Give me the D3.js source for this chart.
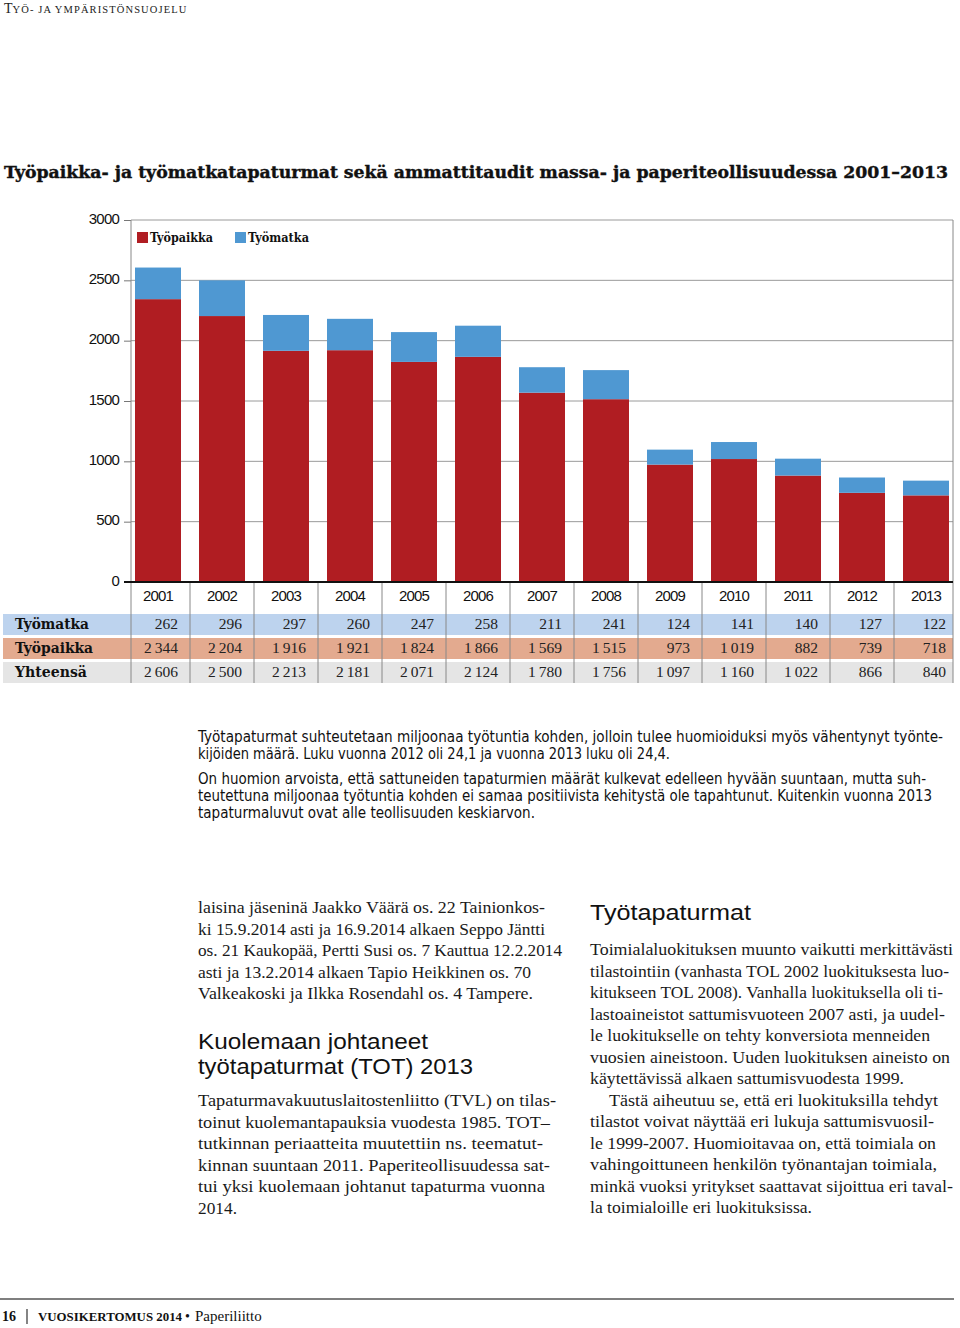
<!DOCTYPE html>
<html><head><meta charset="utf-8">
<script src="https://cdn.jsdelivr.net/npm/d3@7"></script>
<style>
body{margin:0;background:#fff;}
svg{display:block;}
</style></head>
<body>
<svg id="c" width="960" height="1328"></svg>
<script>
// ---------- data ----------
const years = ["2001","2002","2003","2004","2005","2006","2007","2008","2009","2010","2011","2012","2013"];
const tyomatka = [262,296,297,260,247,258,211,241,124,141,140,127,122];
const tyopaikka = [2344,2204,1916,1921,1824,1866,1569,1515,973,1019,882,739,718];
const yTicks = [0,500,1000,1500,2000,2500,3000];
const seriesNames = ["Työpaikka","Työmatka"];
const rowLabels = ["Työmatka","Työpaikka","Yhteensä"];

const COL_RED = "#b01d22", COL_BLUE = "#4f98d2";
const SANS_C = "'Liberation Sans Narrow','DejaVu Sans Condensed','Liberation Sans',sans-serif";
const SANS = "'Liberation Sans',Arial,sans-serif";
const SLAB = "'DejaVu Serif',serif";
const SERIF = "'Liberation Serif','DejaVu Serif',serif";
const HEAD = "'Liberation Sans',Arial,sans-serif";

const svg = d3.select("#c");
const fmt = d3.formatLocale({decimal:",", thousands:"\u2009", grouping:[3], currency:["","€"]}).format(",d");

// ---------- header ----------
const hdr = svg.append("text").attr("x",4).attr("y",13).attr("font-family",SERIF).attr("fill","#222");
hdr.append("tspan").attr("font-size",14).text("T");
hdr.append("tspan").attr("font-size",10.5).attr("letter-spacing",1.1).text("YÖ- JA YMPÄRISTÖNSUOJELU");

// ---------- title ----------
svg.append("text").attr("x",4).attr("y",178)
  .attr("font-family",SLAB).attr("font-weight","900").attr("font-size",17).attr("fill","#111")
  .attr("stroke","#111").attr("stroke-width",0.4)
  .attr("textLength",944).attr("lengthAdjust","spacingAndGlyphs")
  .text("Työpaikka- ja työmatkatapaturmat sekä ammattitaudit massa- ja paperiteollisuudessa 2001–2013");

// ---------- scales ----------
const x = d3.scaleBand().domain(years).range([126,958]).paddingInner(18/64).paddingOuter(9/64);
const y = d3.scaleLinear().domain([0,3000]).range([582,220]);
const plotL = 131, plotR = 953;
const bw = x.bandwidth(), gap = (x.step()-bw)/2;

// gridlines
svg.append("g").selectAll("line").data(yTicks.filter(d=>d>0)).join("line")
  .attr("x1",plotL).attr("x2",plotR).attr("y1",d=>y(d)).attr("y2",d=>y(d))
  .attr("stroke","#9a9a9a").attr("stroke-width",1);

// y axis
const yAxis = svg.append("g").attr("transform",`translate(${plotL},0)`)
  .call(d3.axisLeft(y).tickValues(yTicks).tickSizeInner(7).tickSizeOuter(0).tickPadding(5).tickFormat(d3.format("d")));
yAxis.select(".domain").remove();
yAxis.selectAll(".tick line").attr("stroke","#777");
yAxis.selectAll(".tick text").attr("font-family",SANS).attr("font-size",15)
  .attr("letter-spacing",-0.8).attr("fill","#111").attr("dy","0.2em");

// stacked bars
const rows = years.map((yr,i)=>({year:yr, "Työpaikka":tyopaikka[i], "Työmatka":tyomatka[i]}));
const stack = d3.stack().keys(seriesNames)(rows);
const color = d3.scaleOrdinal().domain(seriesNames).range([COL_RED, COL_BLUE]);
svg.append("g").selectAll("g").data(stack).join("g").attr("fill",d=>color(d.key))
  .selectAll("rect").data(d=>d).join("rect")
  .attr("x",d=>x(d.data.year)).attr("width",bw)
  .attr("y",d=>y(d[1])).attr("height",d=>y(d[0])-y(d[1]));

// frame lines
svg.append("line").attr("x1",plotL).attr("x2",plotL).attr("y1",220).attr("y2",683).attr("stroke","#888");
svg.append("line").attr("x1",plotR).attr("x2",plotR).attr("y1",220).attr("y2",683).attr("stroke","#888");
svg.append("line").attr("x1",124).attr("x2",plotR).attr("y1",y(0)).attr("y2",y(0)).attr("stroke","#111").attr("stroke-width",2);

// legend
const lg = svg.append("g");
const legendPos = [137, 235];
seriesNames.forEach((s,i)=>{
  lg.append("rect").attr("x",legendPos[i]).attr("y",232).attr("width",11).attr("height",11).attr("fill",color(s));
  lg.append("text").attr("x",legendPos[i]+13).attr("y",242).attr("font-family",SLAB).attr("font-weight","bold")
    .attr("font-size",12).attr("fill","#111").attr("textLength",i===0?63:61).attr("lengthAdjust","spacingAndGlyphs").text(s);
});

// ---------- table ----------
const rowTop = [614,638,662], rowH = 21;
const rowFill = ["#bdd3ee","#e3aa8f","#e5e5e5"];
const rowVals = [tyomatka, tyopaikka, tyomatka.map((v,i)=>v+tyopaikka[i])];
const tb = svg.insert("g",":first-child");
rowTop.forEach((t,r)=>{
  tb.append("rect").attr("x",3).attr("y",t).attr("width",plotR-3).attr("height",rowH).attr("fill",rowFill[r]);
});
const tt = svg.append("g");
// separators
tt.selectAll("line.sep").data(years.slice(0,-1)).join("line").attr("class","sep")
  .attr("x1",d=>x(d)+bw+gap).attr("x2",d=>x(d)+bw+gap).attr("y1",583).attr("y2",683)
  .attr("stroke","#888");
// year labels
tt.selectAll("text.yr").data(years).join("text").attr("class","yr")
  .attr("x",d=>x(d)+bw/2).attr("y",601).attr("text-anchor","middle")
  .attr("font-family",SANS).attr("font-size",15).attr("letter-spacing",-0.8).attr("fill","#111").text(d=>d);
rowLabels.forEach((lab,r)=>{
  tt.append("text").attr("x",15).attr("y",rowTop[r]+15).attr("font-family",SLAB).attr("font-weight","bold")
    .attr("font-size",14).attr("fill","#111").attr("textLength",[74,78,72][r]).attr("lengthAdjust","spacingAndGlyphs").text(lab);
  tt.selectAll(null).data(rowVals[r]).join("text")
    .attr("x",(d,i)=>x(years[i])+bw-3).attr("y",rowTop[r]+15).attr("text-anchor","end")
    .attr("font-family",SERIF).attr("font-size",15.5).attr("fill","#222").text(d=>fmt(d));
});

// ---------- notes under chart ----------
const notes = [
  {t:"Työtapaturmat suhteutetaan miljoonaa työtuntia kohden, jolloin tulee huomioiduksi myös vähentynyt työnte-", y:742, w:745},
  {t:"kijöiden määrä. Luku vuonna 2012 oli 24,1 ja vuonna 2013 luku oli 24,4.", y:759, w:472},
  {t:"On huomion arvoista, että sattuneiden tapaturmien määrät kulkevat edelleen hyvään suuntaan, mutta suh-", y:784, w:728},
  {t:"teutettuna miljoonaa työtuntia kohden ei samaa positiivista kehitystä ole tapahtunut. Kuitenkin vuonna 2013", y:801, w:734},
  {t:"tapaturmaluvut ovat alle teollisuuden keskiarvon.", y:818, w:337}
];
svg.append("g").selectAll("text").data(notes).join("text")
  .attr("x",198).attr("y",d=>d.y).attr("font-family",SANS_C).attr("font-size",15).attr("fill","#111")
  .attr("textLength",d=>d.w).attr("lengthAdjust","spacingAndGlyphs").text(d=>d.t);

// ---------- lower columns ----------
const leftCol = [
  {t:"laisina jäseninä Jaakko Väärä os. 22 Tainionkos-", y:913, e:545},
  {t:"ki 15.9.2014 asti ja 16.9.2014 alkaen Seppo Jäntti", y:934.5, e:545},
  {t:"os. 21 Kaukopää, Pertti Susi os. 7 Kauttua 12.2.2014", y:956, e:562},
  {t:"asti ja 13.2.2014 alkaen Tapio Heikkinen os. 70", y:977.5, e:531},
  {t:"Valkeakoski ja Ilkka Rosendahl os. 4 Tampere.", y:999, e:533},
  {t:"Tapaturmavakuutuslaitostenliitto (TVL) on tilas-", y:1106, e:556},
  {t:"toinut kuolemantapauksia vuodesta 1985. TOT–", y:1127.5, e:550},
  {t:"tutkinnan periaatteita muutettiin ns. teematut-", y:1149, e:543},
  {t:"kinnan suuntaan 2011. Paperiteollisuudessa sat-", y:1170.5, e:550},
  {t:"tui yksi kuolemaan johtanut tapaturma vuonna", y:1192, e:545},
  {t:"2014.", y:1213.5, e:237}
];
const rightCol = [
  {t:"Toimialaluokituksen muunto vaikutti merkittävästi", e:953},
  {t:"tilastointiin (vanhasta TOL 2002 luokituksesta luo-", e:949},
  {t:"kitukseen TOL 2008). Vanhalla luokituksella oli ti-", e:943},
  {t:"lastoaineistot sattumisvuoteen 2007 asti, ja uudel-", e:945},
  {t:"le luokitukselle on tehty konversiota menneiden", e:930},
  {t:"vuosien aineistoon. Uuden luokituksen aineisto on", e:950},
  {t:"käytettävissä alkaen sattumisvuodesta 1999.", e:904},
  {t:"Tästä aiheutuu se, että eri luokituksilla tehdyt", e:938, ind:19},
  {t:"tilastot voivat näyttää eri lukuja sattumisvuosil-", e:934},
  {t:"le 1999-2007. Huomioitavaa on, että toimiala on", e:936},
  {t:"vahingoittuneen henkilön työnantajan toimiala,", e:937},
  {t:"minkä vuoksi yritykset saattavat sijoittua eri taval-", e:953},
  {t:"la toimialoille eri luokituksissa.", e:812}
];
svg.append("g").selectAll("text").data(leftCol).join("text")
  .attr("x",198).attr("y",d=>d.y).attr("font-family",SERIF).attr("font-size",17).attr("fill","#1a1a1a")
  .attr("textLength",d=>d.e-198).attr("lengthAdjust","spacingAndGlyphs").text(d=>d.t);
svg.append("g").selectAll("text").data(rightCol).join("text")
  .attr("x",d=>590+(d.ind||0)).attr("y",(d,i)=>955+i*21.5).attr("font-family",SERIF).attr("font-size",17).attr("fill","#1a1a1a")
  .attr("textLength",d=>d.e-590-(d.ind||0)).attr("lengthAdjust","spacingAndGlyphs").text(d=>d.t);

const heads = [
  {t:"Kuolemaan johtaneet", x:198, y:1049, e:428},
  {t:"työtapaturmat (TOT) 2013", x:198, y:1074, e:473},
  {t:"Työtapaturmat", x:590, y:920, e:751}
];
svg.append("g").selectAll("text").data(heads).join("text")
  .attr("x",d=>d.x).attr("y",d=>d.y).attr("font-family",HEAD).attr("font-size",21.5).attr("fill","#111")
  .attr("textLength",d=>d.e-d.x).attr("lengthAdjust","spacingAndGlyphs").text(d=>d.t);

// ---------- footer ----------
svg.append("line").attr("x1",0).attr("x2",954).attr("y1",1299).attr("y2",1299).attr("stroke","#555").attr("stroke-width",1.5);
svg.append("text").attr("x",2).attr("y",1321).attr("font-family",SERIF).attr("font-weight","bold").attr("font-size",14).attr("fill","#111").text("16");
svg.append("line").attr("x1",27).attr("x2",27).attr("y1",1309).attr("y2",1324).attr("stroke","#333").attr("stroke-width",1.2);
svg.append("text").attr("x",38).attr("y",1321).attr("font-family",SERIF).attr("font-weight","bold").attr("font-size",12)
  .attr("fill","#111").attr("textLength",144).attr("lengthAdjust","spacingAndGlyphs").text("VUOSIKERTOMUS 2014");
svg.append("text").attr("x",185).attr("y",1321).attr("font-family",SERIF).attr("font-size",14).attr("fill","#111").text("•");
svg.append("text").attr("x",195).attr("y",1321).attr("font-family",SERIF).attr("font-size",15).attr("fill","#111").text("Paperiliitto");
</script>
</body></html>
